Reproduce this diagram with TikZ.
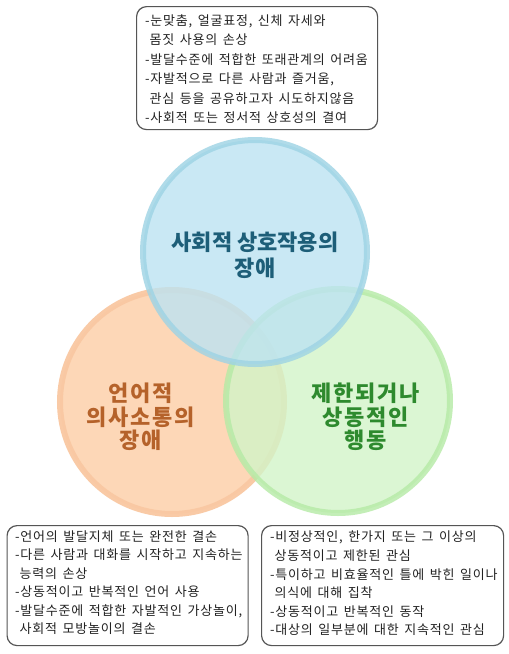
\documentclass[tikz,border=0pt]{standalone}
\usepackage{fontspec}
\setmainfont{Noto Sans CJK KR}
\newfontfamily\boxfont{Noto Sans CJK KR}[WordSpace=1.5,LetterSpace=6]
\newfontfamily\labfont{Noto Sans CJK KR}[LetterSpace=8]
\definecolor{bfill}{HTML}{BCE3F2}
\definecolor{bline}{HTML}{9DD3E4}
\definecolor{ofill}{HTML}{FDD5B4}
\definecolor{oline}{HTML}{F9C8A2}
\definecolor{gfill}{HTML}{D2F4C8}
\definecolor{gline}{HTML}{B5EAA5}
\definecolor{btext}{HTML}{1D5E78}
\definecolor{otext}{HTML}{B5622A}
\definecolor{gtext}{HTML}{2E8A2E}
\definecolor{boxline}{HTML}{555555}
\definecolor{boxtext}{HTML}{222222}
\tikzset{
  venn/.style={circle, minimum size=224pt, line width=6pt, inner sep=0pt},
  clabel/.style={align=center, inner sep=0pt},
  framebox/.style={draw=boxline, line width=1.2pt, rounded corners=10pt, inner sep=0pt, anchor=north west},
  listtext/.style={align=left, text=boxtext, inner sep=0pt, anchor=west}
}
\begin{document}
\begin{tikzpicture}[x=1pt,y=-1pt]
\useasboundingbox (0,0) rectangle (509,654);
\fill[white] (0,0) rectangle (509,654);
% circles
\node[venn, fill=ofill, draw=oline, fill opacity=0.95, draw opacity=0.95] (orange) at (172,402) {};
\node[venn, fill=gfill, draw=gline, fill opacity=0.8, draw opacity=0.8] (green) at (338,401) {};
\node[venn, fill=bfill, draw=bline, fill opacity=0.8, draw opacity=0.8] (blue) at (255,252) {};
% circle labels
\node[clabel, text=btext, font=\fontsize{22}{26}\selectfont\bfseries] (bt) at (255,255) {사회적 상호작용의\\장애};
\node[clabel, text=otext, font=\labfont\fontsize{22}{23.5}\selectfont\bfseries] (ot) at (141,417) {언어적\\의사소통의\\장애};
\node[clabel, text=gtext, font=\labfont\fontsize{22}{23.5}\selectfont\bfseries] (gt) at (366,417) {제한되거나\\상동적인\\행동};
% boxes
\node[framebox, minimum width=241pt, minimum height=123pt] (top) at (136,6) {};
\node[listtext, font=\boxfont\fontsize{13}{19.4}\selectfont] (toptext) at ([xshift=9pt,yshift=-1pt]top.west)
{-눈맞춤, 얼굴표정, 신체 자세와\\\hphantom{-}몸짓 사용의 손상\\-발달수준에 적합한 또래관계의 어려움\\-자발적으로 다른 사람과 즐거움,\\\hphantom{-}관심 등을 공유하고자 시도하지않음\\-사회적 또는 정서적 상호성의 결여};
\node[framebox, minimum width=241pt, minimum height=120pt] (left) at (6.5,525) {};
\node[listtext, font=\boxfont\fontsize{13}{18.4}\selectfont] (lefttext) at ([xshift=8.5pt,yshift=3pt]left.west)
{-언어의 발달지체 또는 완전한 결손\\-다른 사람과 대화를 시작하고 지속하는\\\hphantom{-}능력의 손상\\-상동적이고 반복적인 언어 사용\\-발달수준에 적합한 자발적인 가상놀이,\\\hphantom{-}사회적 모방놀이의 결손};
\node[framebox, minimum width=242pt, minimum height=120pt] (right) at (261,525) {};
\node[listtext, font=\boxfont\fontsize{13}{18.6}\selectfont] (righttext) at ([xshift=9pt,yshift=2pt]right.west)
{-비정상적인, 한가지 또는 그 이상의\\\hphantom{-}상동적이고 제한된 관심\\-특이하고 비효율적인 틀에 박힌 일이나\\\hphantom{-}의식에 대해 집착\\-상동적이고 반복적인 동작\\-대상의 일부분에 대한 지속적인 관심};
\end{tikzpicture}
\end{document}
